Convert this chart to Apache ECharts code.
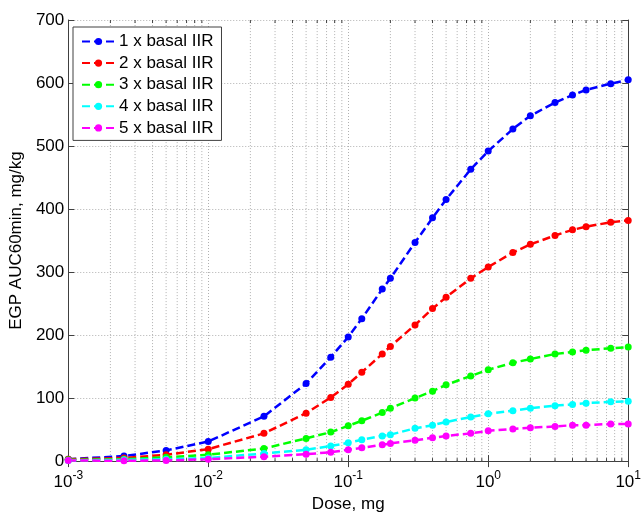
<!DOCTYPE html>
<html>
<head>
<meta charset="utf-8">
<script src="https://cdn.jsdelivr.net/npm/echarts@6/dist/echarts.min.js"></script>
<style>html,body{margin:0;padding:0;background:#fff}#chart{width:644px;height:518px}</style>
</head>
<body>
<div id="chart"></div>
<script>
var doses = [0.001,0.0025,0.005,0.01,0.025,0.05,0.075,0.1,0.125,0.175,0.2,0.3,0.4,0.5,0.75,1,1.5,2,3,4,5,7.5,10];
var seriesNames = ['1 x basal IIR','2 x basal IIR','3 x basal IIR','4 x basal IIR','5 x basal IIR'];
var s1 = [3, 8, 17, 31, 71, 123, 165, 197, 226, 273, 290, 347, 386, 415, 463, 492, 527, 548, 569, 581, 589, 599, 605];
var s2 = [3, 5, 10, 19, 44, 76, 101, 122, 141, 170, 182, 216, 242, 260, 290, 308, 331, 344, 358, 367, 372, 379, 382];
var s3 = [2, 3, 6, 10, 20, 36, 46, 56, 64, 77, 84, 100, 111, 121, 135, 145, 156, 162, 170, 173, 176, 179, 181];
var s4 = [1, 2, 3, 5, 12, 18, 24, 29, 34, 40, 42, 52, 57, 62, 70, 75, 80, 84, 88, 90, 92, 94, 95];
var s5 = [1, 0.5, 1, 3, 7, 11, 14, 18, 21, 26, 28, 33, 37, 40, 44, 48, 51, 53, 55, 57, 57, 59, 59];
var colors = ['#0000ff','#ff0000','#00ff00','#00ffff','#ff00ff'];
var minorTicks = [];
[0.001,0.01,0.1,1].forEach(function(d){ for (var k=2;k<=9;k++) minorTicks.push(+(d*k).toPrecision(3)); });
var yMin = 0, yMax = 700, yStep = 100;
var xMin = 0.001, xMax = 10;

var FONT = 'Liberation Sans, Arial, sans-serif';
var axisColor = '#404040';
var gridColor = '#b0b0b0';

function pairs(vals){ return doses.map(function(d,i){ return [d, vals[i]]; }); }
var allVals = [s1,s2,s3,s4,s5];

var chart = echarts.init(document.getElementById('chart'), null, {renderer:'canvas'});

var series = allVals.map(function(v,i){
  return {
    name: seriesNames[i], type:'line', data: pairs(v),
    symbol:'circle', symbolSize:7, showSymbol:true,
    itemStyle:{color:colors[i]},
    lineStyle:{color:colors[i], width:2.5, type:[8,4]},
    animation:false, z:3
  };
});
series.unshift({
  type:'custom', silent:true, animation:false, z:1,
  data: minorTicks.map(function(v){ return [v, yMin]; }),
  encode:{x:0,y:1},
  renderItem:function(params, api){
    var v = api.value(0);
    var p0 = api.coord([v, yMin]);
    var p1 = api.coord([v, yMax]);
    return {type:'group', children:[
      {type:'line', shape:{x1:p0[0],y1:p0[1],x2:p1[0],y2:p1[1]}, style:{stroke:gridColor,lineWidth:1,lineDash:[1,2]}},
      {type:'line', shape:{x1:p0[0],y1:p0[1],x2:p0[0],y2:p0[1]-3}, style:{stroke:axisColor,lineWidth:1}},
      {type:'line', shape:{x1:p1[0],y1:p1[1],x2:p1[0],y2:p1[1]+3}, style:{stroke:axisColor,lineWidth:1}}
    ]};
  }
});

var option = {
  backgroundColor:'#ffffff',
  animation:false,
  textStyle:{fontFamily:FONT},
  grid:{left:67, top:20, width:568, height:448, containLabel:false},
  legend:{
    orient:'vertical', left:73, top:27,
    data: seriesNames,
    itemWidth:33, itemHeight:9, itemGap:4.6,
    padding:[6,8,4,8],
    backgroundColor:'#ffffff', borderColor:axisColor, borderWidth:1, borderRadius:0,
    textStyle:{fontFamily:FONT, fontSize:17, color:'#000', lineHeight:17, padding:[0,0,0,-1]}
  },
  xAxis:[{
    type:'log', logBase:10, min:xMin, max:xMax, position:'bottom',
    name:'Dose, mg', nameLocation:'middle', nameGap:34,
    nameTextStyle:{fontFamily:FONT, fontSize:17, color:'#000'},
    axisLine:{show:true, lineStyle:{color:axisColor, width:1}},
    axisTick:{show:true, inside:true, length:6, lineStyle:{color:axisColor}},
    axisLabel:{show:true, margin:9, color:'#000', fontFamily:FONT,
      formatter:function(v){ var e=Math.round(Math.log(v)/Math.LN10); return '{b|10}{s|'+e+'}'; },
      rich:{b:{fontSize:17, fontFamily:FONT, color:'#000', verticalAlign:'bottom'},
            s:{fontSize:12, fontFamily:FONT, color:'#000', verticalAlign:'bottom', padding:[0,0,9,0]}}},
    splitLine:{show:true, lineStyle:{color:gridColor, type:[1,2], width:1}}
  },{
    type:'log', logBase:10, min:xMin, max:xMax, position:'top',
    axisLine:{show:true, lineStyle:{color:axisColor, width:1}},
    axisTick:{show:true, inside:true, length:6, lineStyle:{color:axisColor}},
    axisLabel:{show:false}, splitLine:{show:false}
  }],
  yAxis:[{
    type:'value', min:yMin, max:yMax, interval:yStep, position:'left',
    name:'EGP AUC60min, mg/kg', nameLocation:'middle', nameGap:40, nameRotate:90,
    nameTextStyle:{fontFamily:FONT, fontSize:17, color:'#000'},
    axisLine:{show:true, lineStyle:{color:axisColor, width:1}},
    axisTick:{show:true, inside:true, length:6, lineStyle:{color:axisColor}},
    axisLabel:{show:true, margin:4, color:'#000', fontFamily:FONT, fontSize:17},
    splitLine:{show:true, lineStyle:{color:gridColor, type:[1,2], width:1}}
  },{
    type:'value', min:yMin, max:yMax, interval:yStep, position:'right',
    axisLine:{show:true, lineStyle:{color:axisColor, width:1}},
    axisTick:{show:true, inside:true, length:6, lineStyle:{color:axisColor}},
    axisLabel:{show:false}, splitLine:{show:false}
  }],
  series: series
};
chart.setOption(option);
</script>
</body>
</html>
